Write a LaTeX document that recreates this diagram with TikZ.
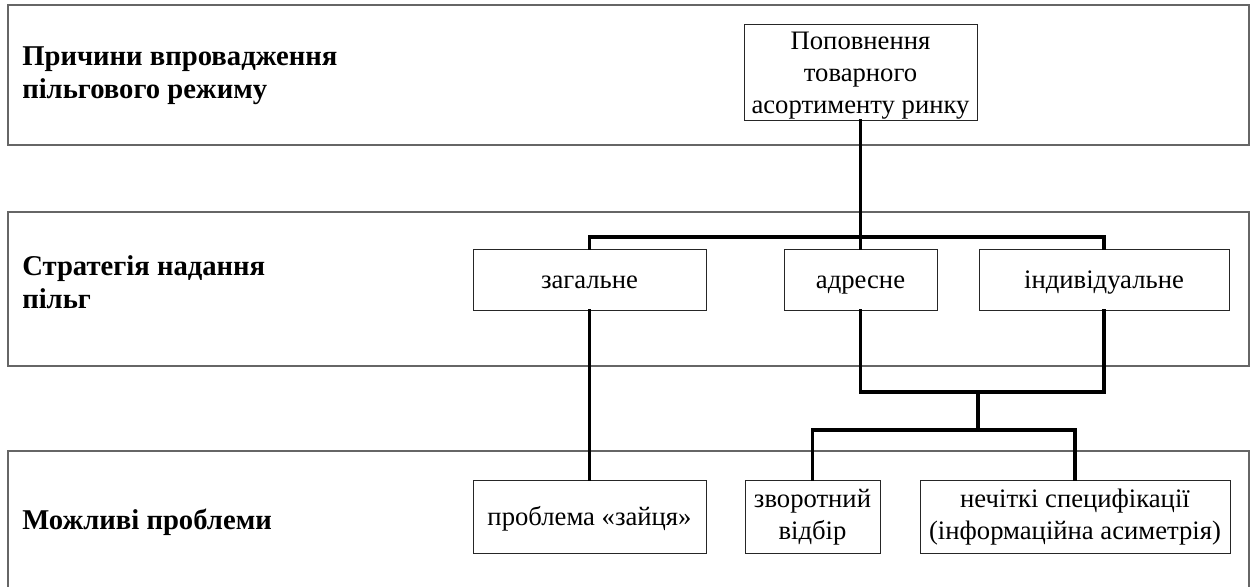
\documentclass[tikz,border=0pt]{standalone}
\usepackage{fontspec}
\setmainfont{Liberation Serif}
\newcommand\mylines[2][-1.8pt]{\raisebox{#1}[\height][\depth]{\begin{tabular}{@{}c@{}}#2\end{tabular}}}
\begin{document}
\begin{tikzpicture}[x=0.75pt,y=-0.75pt,
  band/.style={draw=black!60,line width=1.1pt},
  box/.style={draw=black!85,line width=0.6pt,inner sep=0pt,
    font=\fontsize{20}{24}\selectfont},
  lbl/.style={anchor=west,align=left,inner sep=0pt,
    font=\fontsize{21.5}{24.5}\selectfont\bfseries},
  conn/.style={line width=2.3pt,line cap=rect}]
\useasboundingbox (0,0) rectangle (1252,586);
% bands
\draw[band] (8,5) rectangle (1249,145);
\draw[band] (8,212) rectangle (1249,366);
\draw[band] (8,451) rectangle (1249,600);
% band labels
\node[lbl] (l1) at (22,76) {Причини впровадження\\пільгового режиму};
\node[lbl] (l2) at (22,282) {Стратегія надання\\пільг};
\node[lbl] (l3) at (22,522) {Можливі проблеми};
% boxes
\node[box,minimum width=174.75pt,minimum height=71.25pt] (top) at (860.5,72.5)
  {\mylines[-2.2pt]{Поповнення\\товарного\\асортименту ринку}};
\node[box,minimum width=174.75pt,minimum height=45.75pt] (zag) at (589.5,279.5) {\mylines{загальне}};
\node[box,minimum width=114.75pt,minimum height=45.75pt] (adr) at (860.5,279.5) {\mylines{адресне}};
\node[box,minimum width=187.5pt,minimum height=45.75pt] (ind) at (1104,279.5) {\mylines{індивідуальне}};
\node[box,minimum width=174.75pt,minimum height=54.75pt] (prob) at (589.5,516.5) {\mylines{проблема «зайця»}};
\node[box,minimum width=101.25pt,minimum height=54.75pt] (zvor) at (812.5,516.5) {\mylines[-0.6pt]{зворотний\\відбір}};
\node[box,minimum width=232.5pt,minimum height=54.75pt] (nech) at (1075,516.5)
  {\mylines[-0.6pt]{нечіткі специфікації\\(інформаційна асиметрія)}};
% junction coordinates
\coordinate (b1) at (860.5,237);
\coordinate (b2) at (978,392);
\coordinate (b3) at (978,430);
% connectors
\draw[conn] (top.south) -- (adr.north);
\draw[conn] (zag.north) -- (zag.north |- b1) -- (ind.north |- b1) -- (ind.north);
\draw[conn] (zag.south) -- (prob.north);
\draw[conn] (adr.south) -- (adr.south |- b2) -- (ind.south |- b2) -- (ind.south);
\draw[conn] (b2) -- (b3);
\draw[conn] (zvor.north) -- (zvor.north |- b3) -- (nech.north |- b3) -- (nech.north);
\end{tikzpicture}
\end{document}
